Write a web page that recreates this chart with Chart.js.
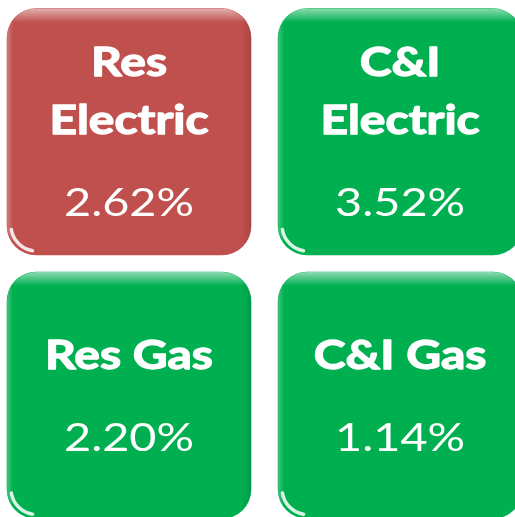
<!DOCTYPE html>
<html>
<head>
<meta charset="utf-8">
<script src="https://cdn.jsdelivr.net/npm/chart.js@4"></script>
<style>
  html, body { margin: 0; padding: 0; background: #fff; }
  #wrap { width: 515px; height: 517px; }
</style>
</head>
<body>
<div id="wrap"><canvas id="tiles"></canvas></div>
<script>
// Tile data
var titles = [['Res', 'Electric'], ['C&I', 'Electric'], ['Res Gas'], ['C&I Gas']];
var values = [2.62, 3.52, 2.20, 1.14];
var statuses = ['below', 'above', 'above', 'above'];
var cols = [0, 1, 0, 1];
var rows = [1, 1, 0, 0];

var statusColors = { below: '#C0504D', above: '#00B050' };
var gapX = 13.5, gapY = 8.5, outerRadius = 43;

// gloss + labels on top of each tile
var tileText = {
  id: 'tileText',
  afterDatasetsDraw: function(chart) {
    var ctx = chart.ctx;
    chart.getDatasetMeta(0).data.forEach(function(bar, i) {
      var top = Math.min(bar.y, bar.base);
      var bottom = Math.max(bar.y, bar.base);
      var left = bar.x - bar.width / 2 + gapX;
      var right = bar.x + bar.width / 2 - gapX;
      var t = top + gapY, b = bottom - gapY;
      var r = outerRadius - gapX;

      ctx.save();
      ctx.beginPath();
      ctx.roundRect(left, t, right - left, b - t, r);
      ctx.clip();
      // light band at top
      var g = ctx.createLinearGradient(0, t, 0, t + 14);
      g.addColorStop(0, 'rgba(255,255,255,0.55)');
      g.addColorStop(1, 'rgba(255,255,255,0)');
      ctx.fillStyle = g;
      ctx.fillRect(left, t, right - left, 14);
      // darker right edge
      var g2 = ctx.createLinearGradient(right - 10, 0, right, 0);
      g2.addColorStop(0, 'rgba(0,0,0,0)');
      g2.addColorStop(1, 'rgba(0,0,0,0.12)');
      ctx.fillStyle = g2;
      ctx.fillRect(right - 10, t, 10, b - t);
      // faint left edge highlight
      var g3 = ctx.createLinearGradient(left, 0, left + 6, 0);
      g3.addColorStop(0, 'rgba(255,255,255,0.25)');
      g3.addColorStop(1, 'rgba(255,255,255,0)');
      ctx.fillStyle = g3;
      ctx.fillRect(left, t, 6, b - t);
      // bottom-left shine
      ctx.beginPath();
      ctx.arc(left + r, b - r, r - 4, 0.55 * Math.PI, 0.95 * Math.PI);
      ctx.strokeStyle = 'rgba(255,255,255,0.85)';
      ctx.lineWidth = 3.5;
      ctx.lineCap = 'round';
      ctx.stroke();
      ctx.restore();

      // labels (text is a little stretched sideways in the original)
      var lines = titles[i];
      var capH = 29, lineGap = 58, pctGap = 82;
      var blockH = capH + (lines.length - 1) * lineGap + pctGap;
      var y0 = (t + b) / 2 - blockH / 2 + capH;
      ctx.save();
      ctx.translate(bar.x, 0);
      ctx.scale(1.2, 1);
      ctx.fillStyle = '#fff';
      ctx.strokeStyle = '#fff';
      ctx.lineWidth = 1.3;
      ctx.lineJoin = 'round';
      ctx.textAlign = 'center';
      ctx.textBaseline = 'alphabetic';
      ctx.font = 'bold 40px Lato';
      lines.forEach(function(line, k) {
        ctx.fillText(line, 0, y0 + k * lineGap);
        ctx.strokeText(line, 0, y0 + k * lineGap);
      });
      ctx.font = '39px Lato';
      ctx.fillText(values[i].toFixed(2) + '%', 0, y0 + (lines.length - 1) * lineGap + pctGap);
      ctx.restore();
    });
  }
};

window.onload = function() {
  var ctx = document.getElementById('tiles').getContext('2d');
  var chart = new Chart(ctx, {
    type: 'bar',
    data: {
      datasets: [{
        label: 'Growth',
        data: cols.map(function(c, i) {
          return { x: c + 0.5, y: [rows[i], rows[i] + 1] };
        }),
        backgroundColor: statuses.map(function(s) { return statusColors[s]; }),
        borderColor: '#ffffff',
        borderWidth: { top: gapY, bottom: gapY, left: gapX, right: gapX },
        borderSkipped: false,
        borderRadius: outerRadius,
        barThickness: 271
      }]
    },
    options: {
      responsive: true,
      maintainAspectRatio: false,
      animation: false,
      layout: { padding: 0 },
      plugins: {
        legend: { display: false },
        tooltip: { enabled: false },
        title: { display: false }
      },
      scales: {
        x: { type: 'linear', display: false, offset: false, min: 0.024, max: 1.924 },
        y: { type: 'linear', display: false, min: 0.038, max: 2 }
      }
    },
    plugins: [tileText]
  });
};
</script>
</body>
</html>
